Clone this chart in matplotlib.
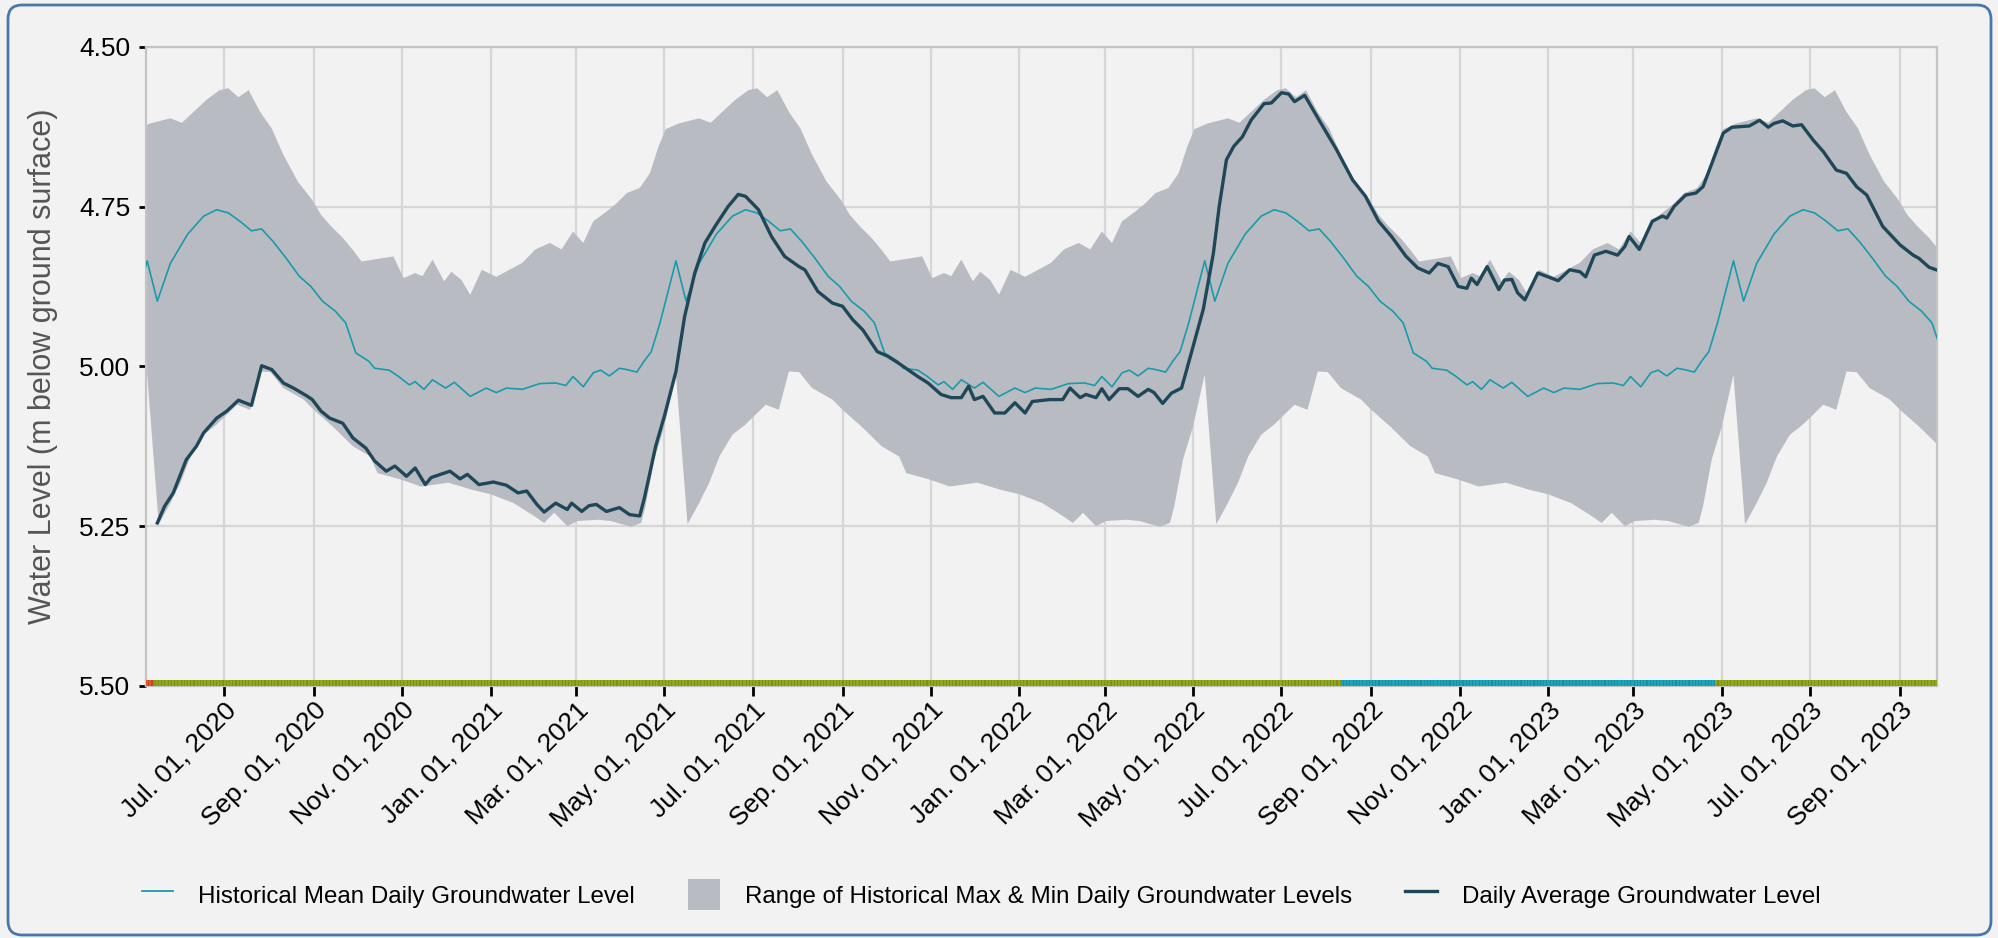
import matplotlib
matplotlib.use("Agg")
import matplotlib.pyplot as plt
import matplotlib.dates as mdates
from matplotlib.patches import FancyBboxPatch, Patch
from matplotlib.lines import Line2D
from matplotlib.transforms import IdentityTransform
import numpy as np
import pandas as pd

plt.rcParams['font.family'] = ['Liberation Sans', 'DejaVu Sans']

# historical statistics, read per month-day (same every year)
mean_days = ["01-05", "01-12", "01-23", "02-04", "02-15", "02-22", "02-27", "03-06",
             "03-13", "03-18", "03-24", "03-31", "04-05", "04-12", "04-17", "04-22",
             "04-28", "05-09", "05-16", "05-25", "06-06", "06-17", "06-26", "07-04",
             "07-12", "07-20", "07-27", "08-04", "08-13", "08-22", "08-30", "09-07",
             "09-16", "09-23", "09-30", "10-09", "10-13", "10-23", "10-29", "11-06",
             "11-10", "11-16", "11-22", "12-01", "12-07", "12-18", "12-29"]
mean_vals = [5.041, 5.034, 5.036, 5.027, 5.026, 5.030, 5.016, 5.032,
             5.010, 5.006, 5.015, 5.003, 5.005, 5.009, 4.992, 4.977,
             4.932, 4.835, 4.898, 4.839, 4.793, 4.765, 4.755, 4.760,
             4.773, 4.788, 4.785, 4.805, 4.831, 4.859, 4.875, 4.898,
             4.914, 4.932, 4.979, 4.992, 5.003, 5.006, 5.015, 5.029,
             5.024, 5.036, 5.021, 5.034, 5.025, 5.047, 5.034]

upper_days = ["01-05", "01-14", "01-23", "02-01", "02-11", "02-19", "02-27", "03-06",
              "03-13", "03-22", "03-29", "04-05", "04-14", "04-21", "04-27", "05-02",
              "05-11", "05-25", "06-02", "06-10", "06-19", "06-28", "07-04", "07-11",
              "07-18", "07-26", "08-03", "08-11", "08-21", "08-31", "09-06", "09-13",
              "09-21", "09-28", "10-04", "10-12", "10-26", "11-02", "11-10", "11-15",
              "11-22", "11-30", "12-05", "12-12", "12-18", "12-26"]
upper_vals = [4.860, 4.849, 4.838, 4.817, 4.807, 4.817, 4.789, 4.807,
              4.773, 4.758, 4.745, 4.729, 4.721, 4.698, 4.656, 4.629,
              4.620, 4.612, 4.619, 4.602, 4.583, 4.568, 4.565, 4.579,
              4.568, 4.602, 4.628, 4.669, 4.711, 4.740, 4.763, 4.781,
              4.799, 4.818, 4.836, 4.833, 4.828, 4.862, 4.854, 4.859,
              4.833, 4.867, 4.852, 4.865, 4.888, 4.849]

lower_days = ["01-01", "01-17", "01-31", "02-07", "02-14", "02-23", "03-02", "03-16",
              "03-25", "04-08", "04-15", "04-18", "04-24", "05-01", "05-09", "05-17",
              "05-25", "06-01", "06-08", "06-17", "06-26", "07-10", "07-19", "07-26",
              "08-02", "08-11", "08-25", "09-01", "09-14", "09-28", "10-10", "10-15",
              "10-31", "11-14", "12-03", "12-19"]
lower_vals = [5.200, 5.214, 5.234, 5.245, 5.229, 5.250, 5.242, 5.240,
              5.242, 5.251, 5.245, 5.219, 5.146, 5.094, 5.013, 5.247,
              5.214, 5.182, 5.141, 5.107, 5.091, 5.060, 5.068, 5.008,
              5.009, 5.034, 5.052, 5.068, 5.094, 5.125, 5.141, 5.167,
              5.177, 5.188, 5.182, 5.193]

# daily average groundwater level
daily_dates = [
    "2020-05-16", "2020-05-21", "2020-05-27", "2020-06-05", "2020-06-12", "2020-06-17",
    "2020-06-26", "2020-07-03", "2020-07-11", "2020-07-20", "2020-07-27", "2020-08-03",
    "2020-08-11", "2020-08-18", "2020-08-27", "2020-08-31", "2020-09-06", "2020-09-12",
    "2020-09-21", "2020-09-28", "2020-10-07", "2020-10-13", "2020-10-21", "2020-10-27",
    "2020-11-04", "2020-11-10", "2020-11-17", "2020-11-21", "2020-12-04", "2020-12-11",
    "2020-12-16", "2020-12-24", "2021-01-03", "2021-01-12", "2021-01-20", "2021-01-26",
    "2021-02-02", "2021-02-07", "2021-02-15", "2021-02-23", "2021-02-26", "2021-03-05",
    "2021-03-10", "2021-03-15", "2021-03-22", "2021-03-31", "2021-04-07", "2021-04-14",
    "2021-04-17", "2021-04-21", "2021-04-25", "2021-05-01", "2021-05-09", "2021-05-15",
    "2021-05-22", "2021-05-29", "2021-06-05", "2021-06-14", "2021-06-21", "2021-06-26",
    "2021-07-05", "2021-07-14", "2021-07-23", "2021-08-02", "2021-08-06", "2021-08-15",
    "2021-08-25", "2021-09-01", "2021-09-08", "2021-09-15", "2021-09-25", "2021-10-02",
    "2021-10-09", "2021-10-16", "2021-10-23", "2021-10-30", "2021-11-08", "2021-11-15",
    "2021-11-22", "2021-11-27", "2021-12-01", "2021-12-07", "2021-12-15", "2021-12-22",
    "2021-12-29", "2022-01-05", "2022-01-10", "2022-01-22", "2022-01-31", "2022-02-05",
    "2022-02-12", "2022-02-16", "2022-02-23", "2022-02-27", "2022-03-04", "2022-03-11",
    "2022-03-17", "2022-03-24", "2022-03-31", "2022-04-04", "2022-04-10", "2022-04-16",
    "2022-04-23", "2022-04-26", "2022-05-01", "2022-05-08", "2022-05-15", "2022-05-19",
    "2022-05-24", "2022-05-29", "2022-06-04", "2022-06-10", "2022-06-19", "2022-06-24",
    "2022-07-01", "2022-07-06", "2022-07-10", "2022-07-17", "2022-07-27", "2022-08-08",
    "2022-08-19", "2022-08-28", "2022-09-06", "2022-09-15", "2022-09-25", "2022-10-03",
    "2022-10-11", "2022-10-17", "2022-10-24", "2022-10-31", "2022-11-06", "2022-11-09",
    "2022-11-13", "2022-11-20", "2022-11-28", "2022-12-02", "2022-12-07", "2022-12-11",
    "2022-12-16", "2022-12-25", "2023-01-01", "2023-01-08", "2023-01-16", "2023-01-23",
    "2023-01-27", "2023-02-02", "2023-02-10", "2023-02-18", "2023-02-23", "2023-02-26",
    "2023-03-05", "2023-03-14", "2023-03-21", "2023-03-24", "2023-03-29", "2023-04-06",
    "2023-04-13", "2023-04-18", "2023-04-25", "2023-05-02", "2023-05-08", "2023-05-20",
    "2023-05-27", "2023-06-02", "2023-06-06", "2023-06-12", "2023-06-19", "2023-06-25",
    "2023-07-03", "2023-07-10", "2023-07-19", "2023-07-26", "2023-08-02", "2023-08-09",
    "2023-08-20", "2023-09-01", "2023-09-10", "2023-09-14", "2023-09-21", "2023-09-26"]
daily_vals = [
    5.245, 5.219, 5.198, 5.146, 5.125, 5.104,
    5.081, 5.070, 5.053, 5.061, 4.999, 5.005,
    5.026, 5.034, 5.046, 5.052, 5.070, 5.081,
    5.089, 5.112, 5.128, 5.148, 5.164, 5.156,
    5.172, 5.159, 5.185, 5.174, 5.164, 5.176,
    5.169, 5.185, 5.181, 5.186, 5.198, 5.195,
    5.216, 5.228, 5.214, 5.224, 5.214, 5.227,
    5.218, 5.216, 5.227, 5.221, 5.232, 5.234,
    5.208, 5.167, 5.125, 5.078, 5.008, 4.922,
    4.854, 4.807, 4.781, 4.750, 4.731, 4.734,
    4.755, 4.797, 4.828, 4.844, 4.849, 4.883,
    4.901, 4.906, 4.927, 4.943, 4.977, 4.984,
    4.994, 5.005, 5.016, 5.026, 5.044, 5.049,
    5.049, 5.031, 5.052, 5.047, 5.073, 5.073,
    5.057, 5.073, 5.055, 5.052, 5.052, 5.034,
    5.049, 5.044, 5.049, 5.035, 5.052, 5.035,
    5.035, 5.047, 5.036, 5.041, 5.058, 5.042,
    5.034, 5.010, 4.969, 4.911, 4.823, 4.750,
    4.677, 4.656, 4.641, 4.615, 4.589, 4.588,
    4.572, 4.574, 4.586, 4.576, 4.615, 4.661,
    4.708, 4.734, 4.773, 4.797, 4.828, 4.846,
    4.854, 4.839, 4.844, 4.875, 4.878, 4.862,
    4.872, 4.844, 4.880, 4.865, 4.864, 4.885,
    4.896, 4.854, 4.860, 4.866, 4.849, 4.852,
    4.860, 4.826, 4.820, 4.826, 4.8125, 4.797,
    4.817, 4.773, 4.765, 4.768, 4.750, 4.732,
    4.729, 4.719, 4.677, 4.635, 4.626, 4.624,
    4.615, 4.626, 4.620, 4.616, 4.624, 4.622,
    4.646, 4.664, 4.693, 4.698, 4.719, 4.732,
    4.781, 4.810, 4.826, 4.831, 4.845, 4.849]

# status strip along the bottom
status_start = ["2020-05-08", "2020-05-14", "2022-08-11", "2023-04-26"]
status_end = ["2020-05-14", "2022-08-11", "2023-04-26", "2023-09-27"]
status_color = ["#e8552b", "#8fa81c", "#1ba6ba", "#8fa81c"]
status_dark = ["#cc4420", "#7b9312", "#1590a3", "#7b9312"]

years = [2020, 2021, 2022, 2023]
x_start, x_end = pd.Timestamp("2020-05-08"), pd.Timestamp("2023-09-26 06:00")


def tile(days, vals):
    d = pd.to_datetime(["%d-%s" % (y, md) for y in years for md in days])
    return mdates.date2num(d), np.tile(vals, len(years))


mx, my = tile(mean_days, mean_vals)
ux, uy = tile(upper_days, upper_vals)
lx, ly = tile(lower_days, lower_vals)
dx = mdates.date2num(pd.to_datetime(daily_dates))

bg = "#f2f2f2"
fig = plt.figure(figsize=(19.99, 9.38), dpi=100, facecolor=bg)
ax = fig.add_axes([0.0729, 0.2687, 0.8959, 0.6815])
ax.set_facecolor(bg)

# historical range band (polygon from both edges)
ax.fill(np.concatenate([ux, lx[::-1]]), np.concatenate([uy, ly[::-1]]),
        color="#b8bcc2", lw=0, zorder=2)
ax.plot(mx, my, color="#1a9aab", lw=1.2, zorder=3)
ax.plot(dx, daily_vals, color="#1f4757", lw=2.4, zorder=4)

# status strip: darker base with daily bars on top
for s, e, c, cd in zip(status_start, status_end, status_color, status_dark):
    s0, e0 = mdates.date2num(pd.Timestamp(s)), mdates.date2num(pd.Timestamp(e))
    ax.bar(s0, 0.009, bottom=5.4905, width=e0 - s0, align="edge", color=cd, lw=0, zorder=5)
    days = pd.date_range(s, e, freq="D", inclusive="left")
    ax.bar(mdates.date2num(days), 0.009, bottom=5.4905, width=0.65, align="edge",
           color=c, lw=0, zorder=6)

ax.set_xlim(mdates.date2num(x_start), mdates.date2num(x_end))
ax.set_ylim(5.5, 4.5)
ax.set_yticks([4.5, 4.75, 5.0, 5.25, 5.5])
ax.set_yticklabels(["%.2f" % v for v in [4.5, 4.75, 5.0, 5.25, 5.5]])
ax.xaxis.set_major_locator(mdates.MonthLocator(bymonth=[1, 3, 5, 7, 9, 11], bymonthday=1))
ax.xaxis.set_major_formatter(mdates.DateFormatter("%b. %d, %Y"))
ax.grid(True, color="#d6d6d6", lw=1.6, zorder=0)
ax.set_axisbelow(True)
for sp in ax.spines.values():
    sp.set_color("#c4c4c4")
    sp.set_linewidth(1.6)
ax.tick_params(axis="both", colors="black", labelsize=19, width=2)
ax.tick_params(axis="x", length=7, pad=1.5)
ax.tick_params(axis="y", length=5, pad=6)
for lab in ax.get_xticklabels():
    lab.set_rotation(45)
    lab.set_ha("right")
    lab.set_rotation_mode("anchor")
ax.set_ylabel("Water Level (m below ground surface)", fontsize=22, color="#555555")
ax.yaxis.set_label_coords(-0.049, 0.5)

handles = [Line2D([], [], color="#1a9aab", lw=1.3),
           Patch(facecolor="#b8bcc2", edgecolor="none"),
           Line2D([], [], color="#1f4757", lw=2.4)]
labels = ["Historical Mean Daily Groundwater Level",
          "Range of Historical Max & Min Daily Groundwater Levels",
          "Daily Average Groundwater Level"]
fig.legend(handles, labels, loc="center left", bbox_to_anchor=(0.06, 0.046), ncol=3,
           frameon=False, fontsize=17.4, handlelength=1.3, handleheight=1.6,
           handletextpad=1.05, columnspacing=2.2)

border = FancyBboxPatch((8, 3), 1983, 930, boxstyle="round,pad=0,rounding_size=14",
                        transform=IdentityTransform(), facecolor="none",
                        edgecolor="#4b77a6", lw=2.0, zorder=10)
fig.add_artist(border)

fig.savefig("out.png", dpi=100, facecolor=bg)
